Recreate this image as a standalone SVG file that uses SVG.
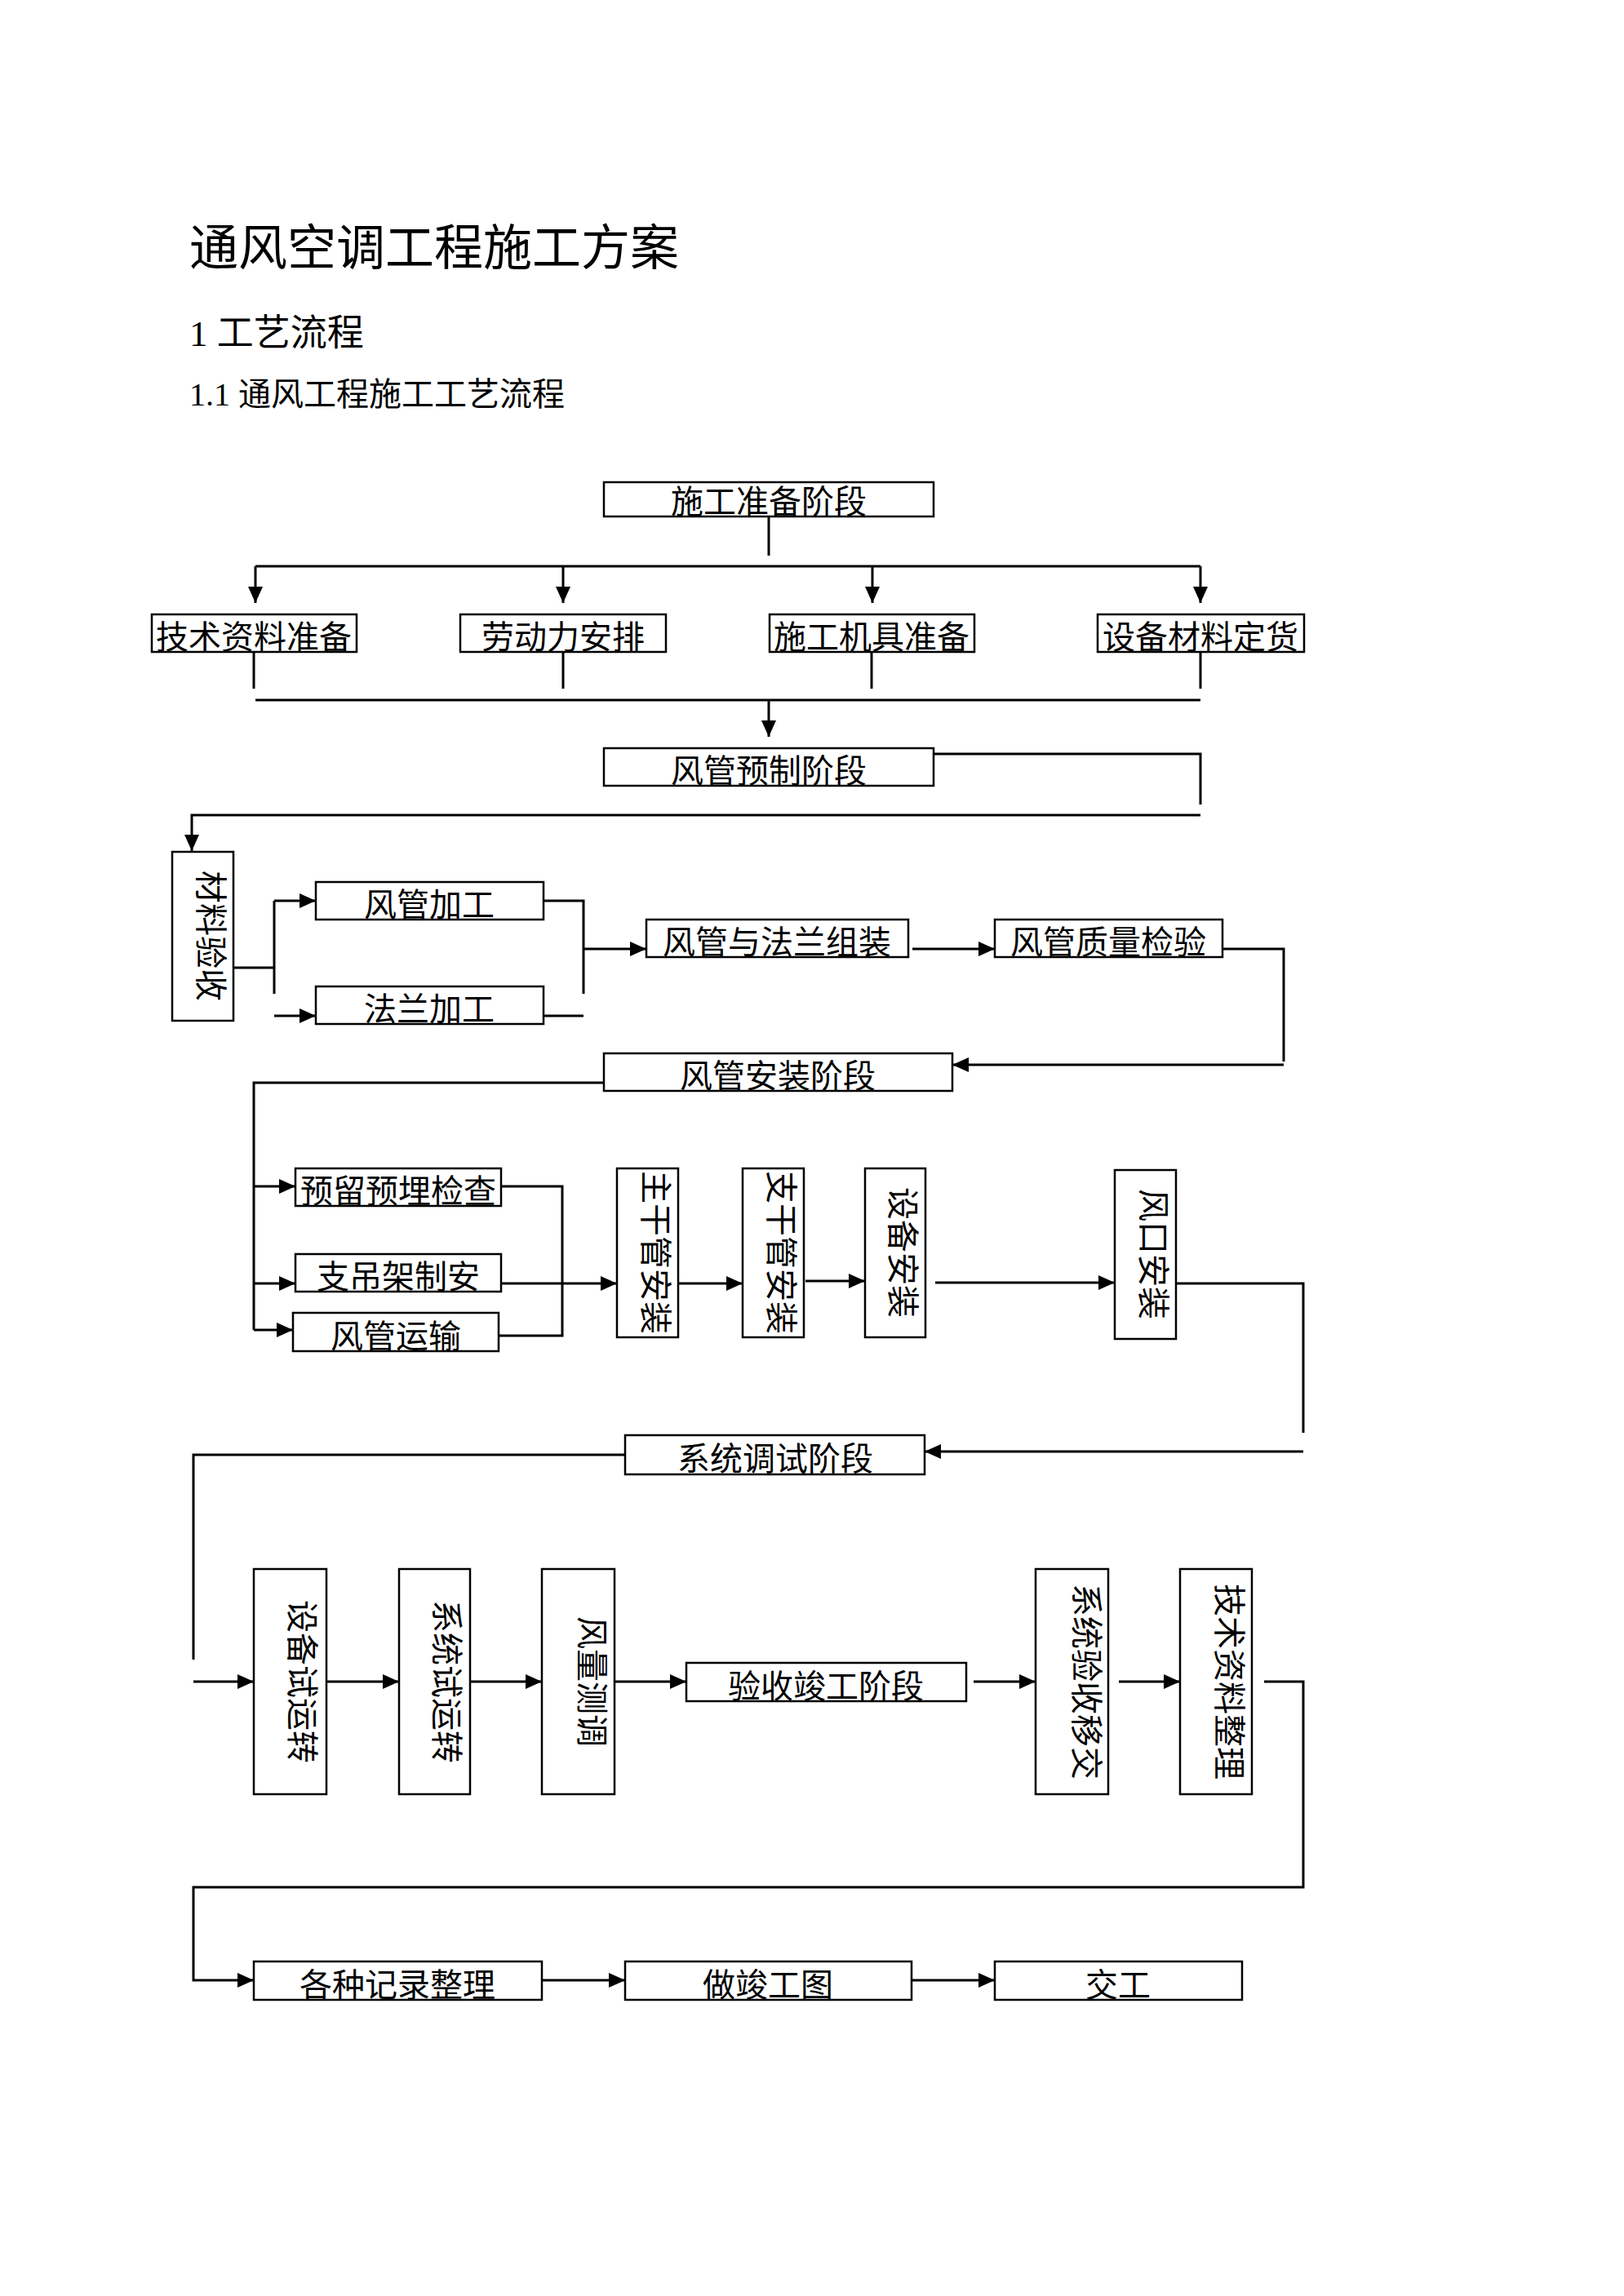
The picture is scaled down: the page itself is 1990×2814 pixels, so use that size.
<svg xmlns="http://www.w3.org/2000/svg" width="1990" height="2814" viewBox="0 0 1990 2814">
<style>
text { font-family: "Liberation Serif", "Noto Sans CJK SC", serif; fill: #000; }
.box { fill: #fff; stroke: #000; stroke-width: 2.5; }
.c { fill: none; stroke: #000; stroke-width: 3; }
.a { marker-end: url(#ah); }
.t { font-size: 40px; text-anchor: middle; }
</style>
<defs>
<marker id="ah" markerUnits="userSpaceOnUse" markerWidth="20" markerHeight="18" refX="20" refY="9" orient="auto">
<path d="M0,0 L20,9 L0,18 z" fill="#000"/>
</marker>
</defs>
<rect width="1990" height="2814" fill="#fff"/>
<g id="headings">
<text x="232" y="325" font-size="60">通风空调工程施工方案</text>
<text x="232" y="424" font-size="45">1 工艺流程</text>
<text x="232" y="497" font-size="40">1.1 通风工程施工工艺流程</text>
</g>
<g id="connectors">
<line class="c" x1="942" y1="633" x2="942" y2="681"/>
<line class="c" x1="313" y1="694" x2="1471" y2="694"/>
<line class="c a" x1="313" y1="694" x2="313" y2="739"/>
<line class="c a" x1="690" y1="694" x2="690" y2="739"/>
<line class="c a" x1="1069" y1="694" x2="1069" y2="739"/>
<line class="c a" x1="1471" y1="694" x2="1471" y2="739"/>
<line class="c" x1="311" y1="799" x2="311" y2="844"/>
<line class="c" x1="690" y1="799" x2="690" y2="844"/>
<line class="c" x1="1068" y1="799" x2="1068" y2="844"/>
<line class="c" x1="1471" y1="799" x2="1471" y2="844"/>
<line class="c" x1="313" y1="858" x2="1471" y2="858"/>
<line class="c a" x1="942" y1="858" x2="942" y2="903"/>
<polyline class="c" points="1144,924 1471,924 1471,986"/>
<polyline class="c a" points="1471,999 235,999 235,1043"/>
<line class="c" x1="286" y1="1186" x2="336" y2="1186"/>
<line class="c" x1="336" y1="1104" x2="336" y2="1218"/>
<line class="c a" x1="336" y1="1104" x2="387" y2="1104"/>
<line class="c a" x1="336" y1="1245" x2="387" y2="1245"/>
<polyline class="c" points="666,1104 715,1104 715,1218"/>
<line class="c" x1="666" y1="1245" x2="715" y2="1245"/>
<line class="c a" x1="715" y1="1163" x2="792" y2="1163"/>
<line class="c a" x1="1118" y1="1163" x2="1219" y2="1163"/>
<polyline class="c" points="1498,1163 1573,1163 1573,1301"/>
<line class="c a" x1="1573" y1="1305" x2="1167" y2="1305"/>
<polyline class="c" points="740,1327 311,1327 311,1630"/>
<line class="c a" x1="311" y1="1454" x2="362" y2="1454"/>
<line class="c a" x1="311" y1="1573" x2="362" y2="1573"/>
<line class="c a" x1="311" y1="1630" x2="359" y2="1630"/>
<polyline class="c" points="614,1454 689,1454 689,1637 611,1637"/>
<line class="c a" x1="614" y1="1573" x2="756" y2="1573"/>
<line class="c a" x1="831" y1="1573" x2="910" y2="1573"/>
<line class="c a" x1="987" y1="1570" x2="1060" y2="1570"/>
<line class="c a" x1="1146" y1="1572" x2="1366" y2="1572"/>
<polyline class="c" points="1441,1573 1597,1573 1597,1756"/>
<line class="c a" x1="1597" y1="1779" x2="1133" y2="1779"/>
<polyline class="c" points="766,1783 237,1783 237,2034"/>
<line class="c a" x1="237" y1="2061" x2="311" y2="2061"/>
<line class="c a" x1="400" y1="2061" x2="489" y2="2061"/>
<line class="c a" x1="576" y1="2061" x2="664" y2="2061"/>
<line class="c a" x1="753" y1="2061" x2="841" y2="2061"/>
<line class="c a" x1="1193" y1="2061" x2="1269" y2="2061"/>
<line class="c a" x1="1371" y1="2061" x2="1446" y2="2061"/>
<polyline class="c a" points="1549,2061 1597,2061 1597,2313 237,2313 237,2427 311,2427"/>
<line class="c a" x1="664" y1="2427" x2="766" y2="2427"/>
<line class="c a" x1="1117" y1="2427" x2="1219" y2="2427"/>
</g>
<g id="n-prep"><rect class="box" x="740" y="591" width="404" height="42"/><text class="t" x="942" y="629">施工准备阶段</text></g>
<g id="n-tech"><rect class="box" x="186" y="753" width="251" height="46"/><text class="t" x="311" y="795">技术资料准备</text></g>
<g id="n-labor"><rect class="box" x="564" y="753" width="252" height="46"/><text class="t" x="690" y="795">劳动力安排</text></g>
<g id="n-tools"><rect class="box" x="943" y="753" width="251" height="46"/><text class="t" x="1068" y="795">施工机具准备</text></g>
<g id="n-order"><rect class="box" x="1345" y="753" width="253" height="46"/><text class="t" x="1471" y="795">设备材料定货</text></g>
<g id="n-prefab"><rect class="box" x="740" y="917" width="404" height="46"/><text class="t" x="942" y="959">风管预制阶段</text></g>
<g id="n-material"><rect class="box" x="211" y="1044" width="75" height="207"/><text class="t" transform="translate(244,1147) rotate(90)">材料验收</text></g>
<g id="n-duct"><rect class="box" x="387" y="1081" width="279" height="46"/><text class="t" x="526" y="1123">风管加工</text></g>
<g id="n-flange"><rect class="box" x="387" y="1209" width="279" height="46"/><text class="t" x="526" y="1251">法兰加工</text></g>
<g id="n-assemble"><rect class="box" x="792" y="1127" width="321" height="46"/><text class="t" x="952" y="1169">风管与法兰组装</text></g>
<g id="n-quality"><rect class="box" x="1219" y="1127" width="279" height="46"/><text class="t" x="1358" y="1169">风管质量检验</text></g>
<g id="n-install"><rect class="box" x="740" y="1291" width="427" height="46"/><text class="t" x="953" y="1333">风管安装阶段</text></g>
<g id="n-check"><rect class="box" x="362" y="1432" width="252" height="46"/><text class="t" x="488" y="1474">预留预埋检查</text></g>
<g id="n-support"><rect class="box" x="362" y="1537" width="252" height="46"/><text class="t" x="488" y="1579">支吊架制安</text></g>
<g id="n-transport"><rect class="box" x="359" y="1609" width="252" height="47"/><text class="t" x="485" y="1652">风管运输</text></g>
<g id="n-main"><rect class="box" x="756" y="1432" width="75" height="207"/><text class="t" transform="translate(789,1535) rotate(90)">主干管安装</text></g>
<g id="n-branch"><rect class="box" x="910" y="1432" width="75" height="207"/><text class="t" transform="translate(943,1535) rotate(90)">支干管安装</text></g>
<g id="n-equip"><rect class="box" x="1060" y="1432" width="74" height="207"/><text class="t" transform="translate(1092,1535) rotate(90)">设备安装</text></g>
<g id="n-outlet"><rect class="box" x="1366" y="1434" width="75" height="207"/><text class="t" transform="translate(1399,1537) rotate(90)">风口安装</text></g>
<g id="n-debug"><rect class="box" x="766" y="1759" width="367" height="48"/><text class="t" x="950" y="1802">系统调试阶段</text></g>
<g id="n-equiptest"><rect class="box" x="311" y="1923" width="89" height="276"/><text class="t" transform="translate(356,2061) rotate(90)">设备试运转</text></g>
<g id="n-systest"><rect class="box" x="489" y="1923" width="87" height="276"/><text class="t" transform="translate(533,2061) rotate(90)">系统试运转</text></g>
<g id="n-airflow"><rect class="box" x="664" y="1923" width="89" height="276"/><text class="t" transform="translate(711,2061) rotate(90)">风量测调</text></g>
<g id="n-accept"><rect class="box" x="841" y="2038" width="343" height="47"/><text class="t" x="1012" y="2081">验收竣工阶段</text></g>
<g id="n-handover"><rect class="box" x="1269" y="1923" width="89" height="276"/><text class="t" transform="translate(1317,2061) rotate(90)">系统验收移交</text></g>
<g id="n-docs"><rect class="box" x="1446" y="1923" width="88" height="276"/><text class="t" transform="translate(1492,2061) rotate(90)">技术资料整理</text></g>
<g id="n-records"><rect class="box" x="311" y="2404" width="353" height="47"/><text class="t" x="487" y="2447">各种记录整理</text></g>
<g id="n-asbuilt"><rect class="box" x="766" y="2404" width="351" height="47"/><text class="t" x="941" y="2447">做竣工图</text></g>
<g id="n-deliver"><rect class="box" x="1219" y="2404" width="303" height="47"/><text class="t" x="1370" y="2447">交工</text></g>
</svg>
